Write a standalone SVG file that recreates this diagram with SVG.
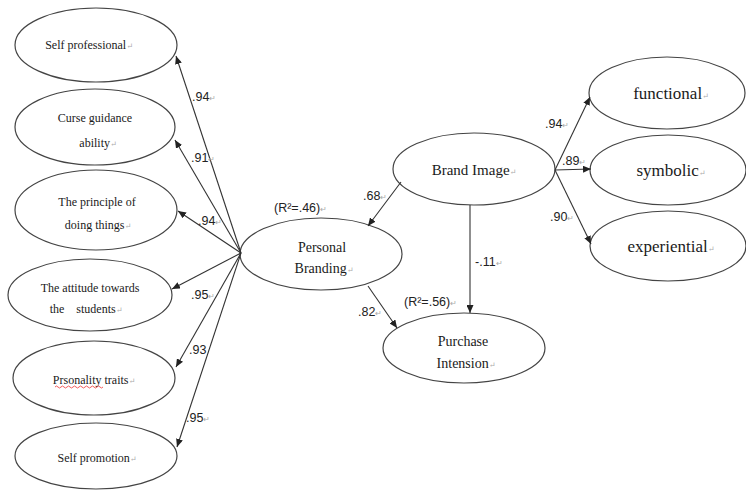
<svg xmlns="http://www.w3.org/2000/svg" width="746" height="490" viewBox="0 0 746 490">
<style>
.bg{fill:#fff}
ellipse{fill:#fff;stroke:#444;stroke-width:1.2}
text.lab{font-family:"Liberation Serif","Times New Roman","DejaVu Serif",serif;fill:#1a1a1a;text-anchor:middle}
.s11{font-size:12px}
.s13{font-size:14px}
.s14{font-size:15px}
.s15{font-size:17px}
text.coef{font-family:"Liberation Sans",Arial,sans-serif;font-size:12.5px;fill:#222}
.pm{fill:#aaa;font-size:8px}
.con line{stroke:#333;stroke-width:1.1;marker-end:url(#ah)}
</style>
<defs>
<marker id="ah" markerUnits="userSpaceOnUse" markerWidth="8" markerHeight="7" refX="8" refY="3.5" orient="auto">
<path d="M0,0 L8,3.5 L0,7 z" fill="#222"/>
</marker>
</defs>
<rect class="bg" x="0" y="0" width="746" height="490"/>

<g id="self-professional">
<ellipse cx="96" cy="45" rx="81" ry="37"/>
<text class="lab s11" x="89" y="49">Self professional<tspan class="pm">↵</tspan></text>
</g>
<g id="curse-guidance">
<ellipse cx="95" cy="127" rx="80" ry="38"/>
<text class="lab s11" x="95" y="122">Curse guidance</text>
<text class="lab s11" x="98" y="147">ability<tspan class="pm">↵</tspan></text>
</g>
<g id="principle">
<ellipse cx="96" cy="210" rx="81" ry="40"/>
<text class="lab s11" x="97" y="206">The principle of</text>
<text class="lab s11" x="98" y="229">doing things<tspan class="pm">↵</tspan></text>
</g>
<g id="attitude">
<ellipse cx="90" cy="295" rx="82" ry="36"/>
<text class="lab s11" x="90" y="292">The attitude towards</text>
<text class="lab s11" x="86" y="313" xml:space="preserve">the    students<tspan class="pm">↵</tspan></text>
</g>
<g id="personality">
<ellipse cx="94" cy="378" rx="81" ry="37"/>
<text class="lab s11" x="94" y="384">Prsonality traits<tspan class="pm">↵</tspan></text>
<path d="M55,387 q1.5,-2 3,0 t3,0 t3,0 t3,0 t3,0 t3,0 t3,0 t3,0 t3,0 t3,0 t3,0 t3,0 t3,0 t3,0 t3,0 t3,0" fill="none" stroke="#e33" stroke-width="0.8"/>
</g>
<g id="self-promotion">
<ellipse cx="96" cy="456" rx="81" ry="33"/>
<text class="lab s11" x="97" y="462">Self promotion<tspan class="pm">↵</tspan></text>
</g>

<g id="personal-branding">
<ellipse cx="321" cy="254" rx="81" ry="36"/>
<text class="lab s13" x="322" y="252">Personal</text>
<text class="lab s13" x="324" y="273">Branding<tspan class="pm">↵</tspan></text>
</g>
<g id="brand-image">
<ellipse cx="474" cy="169" rx="81" ry="36"/>
<text class="lab s14" x="474" y="175">Brand Image<tspan class="pm">↵</tspan></text>
</g>
<g id="purchase-intension">
<ellipse cx="464" cy="348" rx="81" ry="35"/>
<text class="lab s13" x="463" y="346">Purchase</text>
<text class="lab s13" x="466" y="368">Intension<tspan class="pm">↵</tspan></text>
</g>
<g id="functional">
<ellipse cx="667" cy="93" rx="78" ry="36"/>
<text class="lab s15" x="671" y="99">functional<tspan class="pm">↵</tspan></text>
</g>
<g id="symbolic">
<ellipse cx="668" cy="170" rx="78" ry="35"/>
<text class="lab s15" x="671" y="176">symbolic<tspan class="pm">↵</tspan></text>
</g>
<g id="experiential">
<ellipse cx="668" cy="246" rx="78" ry="35"/>
<text class="lab s15" x="671" y="252">experiential<tspan class="pm">↵</tspan></text>
</g>

<g id="connectors" class="con">
<line x1="241" y1="253" x2="176" y2="56"/>
<line x1="241" y1="253" x2="175" y2="140"/>
<line x1="241" y1="253" x2="178" y2="211"/>
<line x1="241" y1="253" x2="172" y2="289"/>
<line x1="241" y1="253" x2="176" y2="367"/>
<line x1="241" y1="253" x2="177" y2="447"/>
<line x1="401" y1="182" x2="368" y2="226"/>
<line x1="368" y1="286" x2="397" y2="328"/>
<line x1="470" y1="205" x2="470" y2="313"/>
<line x1="555" y1="170" x2="590" y2="97"/>
<line x1="555" y1="170" x2="591" y2="169"/>
<line x1="555" y1="170" x2="591" y2="244"/>
</g>

<g id="coefficients">
<text class="coef" x="192" y="101">.94<tspan class="pm">↵</tspan></text>
<text class="coef" x="191" y="162">.91<tspan class="pm">↵</tspan></text>
<text class="coef" x="198" y="225">.94<tspan class="pm">↵</tspan></text>
<text class="coef" x="191" y="299">.95<tspan class="pm">↵</tspan></text>
<text class="coef" x="189" y="354">.93</text>
<text class="coef" x="186" y="422">.95<tspan class="pm">↵</tspan></text>
<text class="coef" x="274" y="212">(R²=.46)<tspan class="pm">↵</tspan></text>
<text class="coef" x="363" y="200">.68<tspan class="pm">↵</tspan></text>
<text class="coef" x="358" y="316">.82<tspan class="pm">↵</tspan></text>
<text class="coef" x="475" y="266">-.11<tspan class="pm">↵</tspan></text>
<text class="coef" x="404" y="306">(R²=.56)<tspan class="pm">↵</tspan></text>
<text class="coef" x="545" y="128">.94<tspan class="pm">↵</tspan></text>
<text class="coef" x="562" y="165">.89<tspan class="pm">↵</tspan></text>
<text class="coef" x="550" y="221">.90<tspan class="pm">↵</tspan></text>
</g>
</svg>
